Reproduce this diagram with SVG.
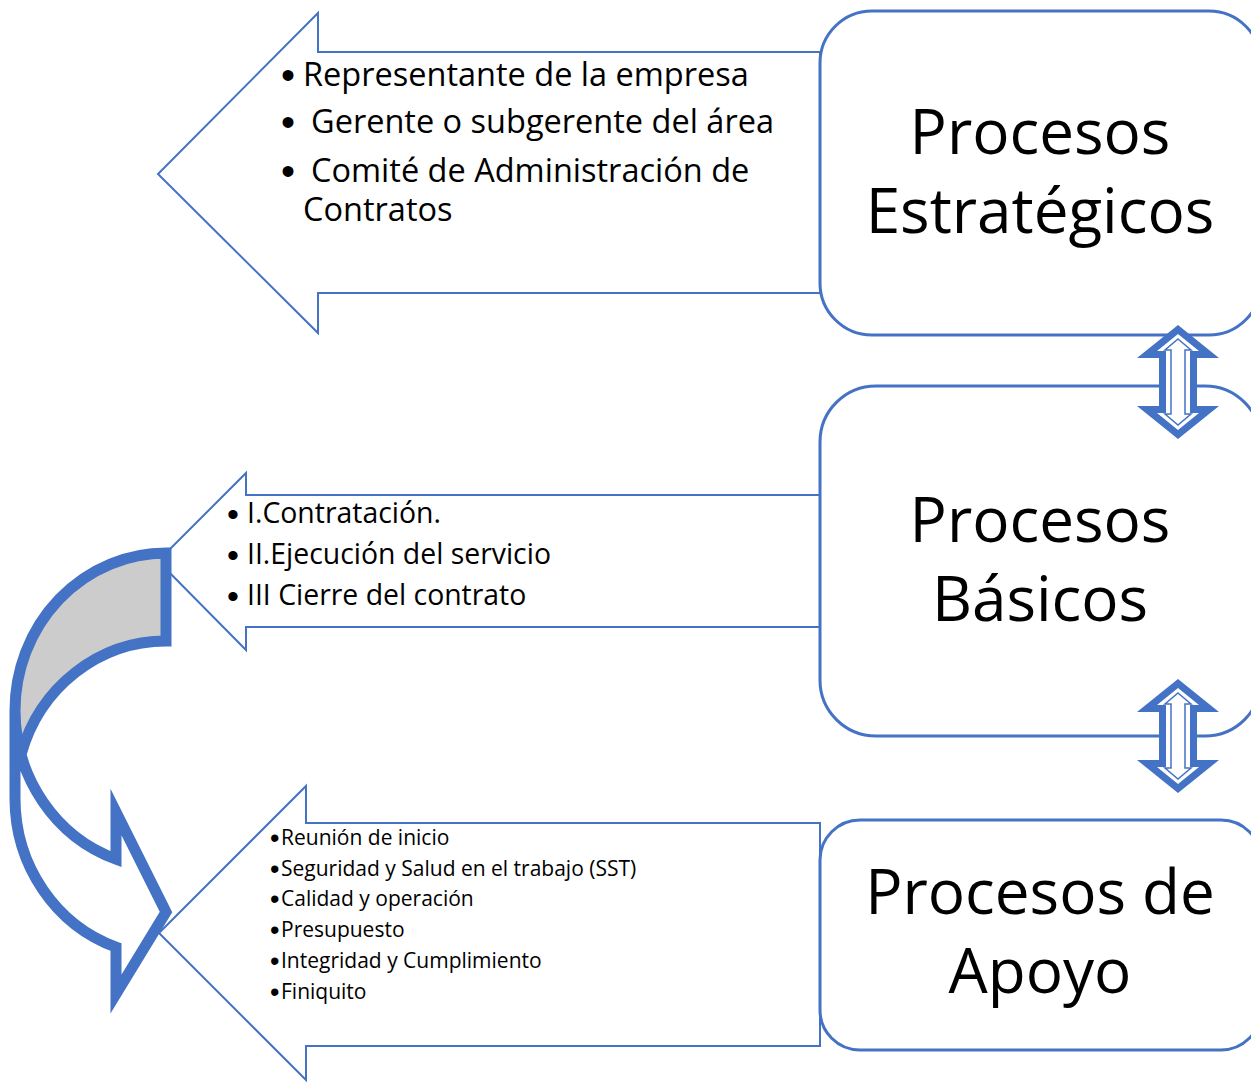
<svg xmlns="http://www.w3.org/2000/svg" width="1251" height="1082" viewBox="0 0 1251 1082">
<style>
.co{fill:#fff;stroke:#4472C4;stroke-width:2;stroke-linejoin:miter}
.box{fill:#fff;stroke:#4472C4;stroke-width:3}
.t{font-family:"Open Sans","Noto Sans",sans-serif;fill:#000}
.title{font-size:62px;text-anchor:middle}
.bul{font-family:"Liberation Sans",Arial,sans-serif;fill:#000}
.c1{font-size:32.5px}
.c2{font-size:28.4px}
.c3{font-size:21px}
.b1{font-size:40px}
.b2{font-size:34px}
.b3{font-size:27px}
</style>
<defs>
<g id="dbl">
<path d="M1178,325 L1219,358 L1197,358 L1197,406 L1219,406 L1178,439 L1137,406 L1159,406 L1159,358 L1137,358 Z" fill="#4472C4"/>
<path d="M1178,334 L1199,351 L1190,351 L1190,413 L1199,413 L1178,430 L1157,413 L1166,413 L1166,351 L1157,351 Z" fill="#fff"/>
<path d="M1178,339 L1191,350 L1185,350 L1185,414 L1191,414 L1178,425 L1165,414 L1171,414 L1171,350 L1165,350 Z" fill="#fff" stroke="#4472C4" stroke-width="1.5"/>
</g>
</defs>
<rect width="1251" height="1082" fill="#fff"/>

<g id="callout-estrategicos">
<path class="co" d="M820,52 L318,52 L318,13 L158,174 L318,333 L318,293 L820,293 Z"/>
<text class="bul b1" x="281" y="89">•</text>
<text class="bul b1" x="281" y="136">•</text>
<text class="bul b1" x="281" y="185">•</text>
<text class="t c1" x="303" y="86">Representante de la empresa</text>
<text class="t c1" x="311" y="133">Gerente o subgerente del área</text>
<text class="t c1" x="311" y="182">Comité de Administración de</text>
<text class="t c1" x="303" y="221">Contratos</text>
</g>

<g id="callout-basicos">
<path class="co" d="M820,495 L246,495 L246,473 L158,561 L246,650 L246,627 L820,627 Z"/>
<text class="bul b2" x="227" y="526">•</text>
<text class="bul b2" x="227" y="567">•</text>
<text class="bul b2" x="227" y="608">•</text>
<text class="t c2" x="247" y="523">I.Contratación.</text>
<text class="t c2" x="247" y="564">II.Ejecución del servicio</text>
<text class="t c2" x="247" y="605">III Cierre del contrato</text>
</g>

<g id="callout-apoyo">
<path class="co" d="M820,823 L306,823 L306,786 L159,933 L306,1080 L306,1046 L820,1046 Z"/>
<text class="bul b3" x="270" y="847">•</text>
<text class="bul b3" x="270" y="877.5">•</text>
<text class="bul b3" x="270" y="908">•</text>
<text class="bul b3" x="270" y="939">•</text>
<text class="bul b3" x="270" y="970">•</text>
<text class="bul b3" x="270" y="1000.5">•</text>
<text class="t c3" x="281" y="845">Reunión de inicio</text>
<text class="t c3" x="281" y="875.5">Seguridad y Salud en el trabajo (SST)</text>
<text class="t c3" x="281" y="906">Calidad y operación</text>
<text class="t c3" x="281" y="937">Presupuesto</text>
<text class="t c3" x="281" y="968">Integridad y Cumplimiento</text>
<text class="t c3" x="281" y="998.5">Finiquito</text>
</g>

<g id="node-estrategicos">
<rect class="box" x="820" y="11" width="441" height="324" rx="52" ry="52"/>
<text class="t title" x="1040" y="154">Procesos</text>
<text class="t title" x="1040" y="233">Estratégicos</text>
</g>

<g id="node-basicos">
<rect class="box" x="820" y="386" width="441" height="350" rx="56" ry="56"/>
<text class="t title" x="1040" y="542">Procesos</text>
<text class="t title" x="1040" y="621">Básicos</text>
</g>

<g id="node-apoyo">
<rect class="box" x="820" y="820" width="441" height="230" rx="40" ry="40"/>
<text class="t title" x="1040" y="914">Procesos de</text>
<text class="t title" x="1040" y="993">Apoyo</text>
</g>

<g id="connectors">
<use href="#dbl"/>
<use href="#dbl" transform="translate(0,354)"/>
<g id="curved-arrow">
<path d="M15,710.5 A151,157.5 0 0 0 116,859.1 L116,812 L166,912 L116,994 L116,947.1 A151,157.5 0 0 1 15,798.5 Z" fill="#fff"/>
<path d="M166,641 A151,157.5 0 0 0 21,754.5 A151,157.5 0 0 1 166,553 Z" fill="#CCCCCC"/>
<path d="M15,710.5 A151,157.5 0 0 0 116,859.1 L116,812 L166,912 L116,994 L116,947.1 A151,157.5 0 0 1 15,798.5 L15,710.5 A151,157.5 0 0 1 166,553 L166,641 A151,157.5 0 0 0 21,754.5" fill="none" stroke="#4472C4" stroke-width="11" stroke-linejoin="miter" stroke-miterlimit="10"/>
</g>
</g>
</svg>
